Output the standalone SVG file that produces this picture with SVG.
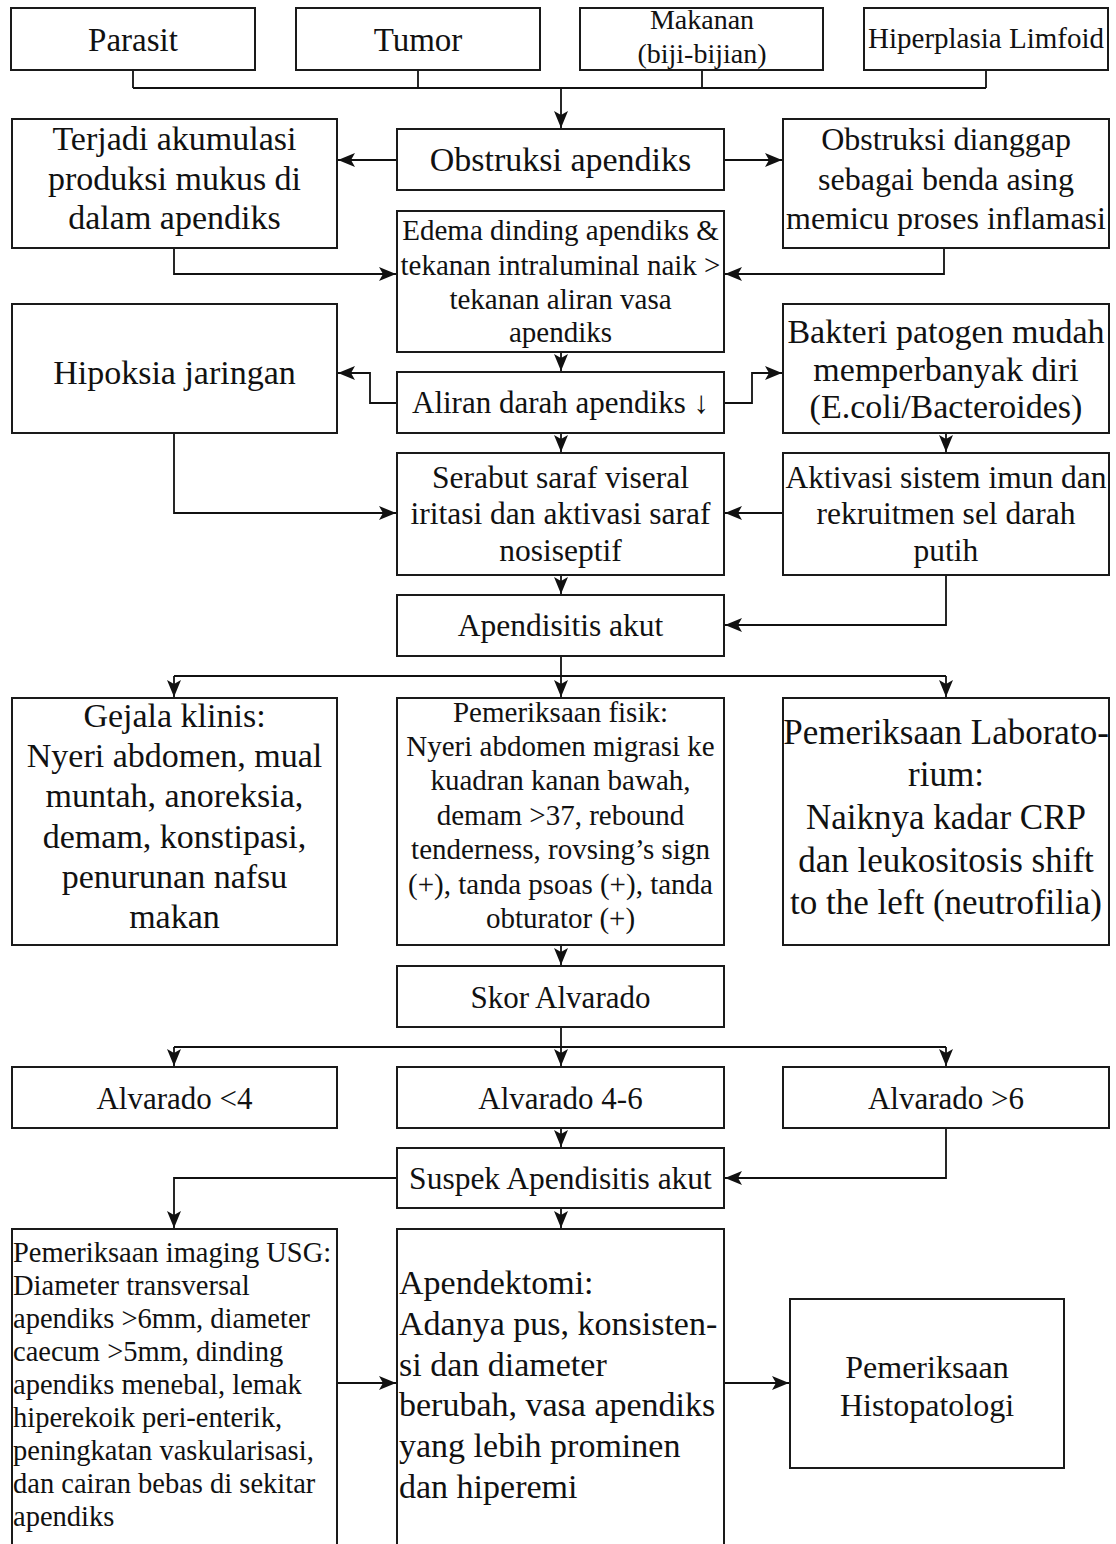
<svg xmlns="http://www.w3.org/2000/svg" width="1116" height="1544" viewBox="0 0 1116 1544">
<style>
.box{fill:#fff;stroke:#1a1a1a;stroke-width:2}
.t{font-family:"Liberation Serif","Times New Roman",serif;fill:#111;text-anchor:middle}
.l{text-anchor:start}
.conn path{fill:none;stroke:#111;stroke-width:1.8}
.a{marker-end:url(#ah)}
</style>
<defs>
<marker id="ah" markerUnits="userSpaceOnUse" markerWidth="18" markerHeight="15" refX="17" refY="7" orient="auto">
<path d="M0,0 L17,7 L0,14 L4,7 z" fill="#111"/>
</marker>
</defs>
<rect width="1116" height="1544" fill="#fff"/>

<g class="conn">
<path d="M133,70 V88 M418,70 V88 M702,70 V88 M986,70 V88 M133,88 H986"/>
<path class="a" d="M561,88 V128"/>
<path class="a" d="M397,160 H338"/>
<path class="a" d="M724,160 H782"/>
<path class="a" d="M174,248 V274 H396"/>
<path class="a" d="M944,248 V274 H725"/>
<path class="a" d="M561,352 V371"/>
<path class="a" d="M397,403 H370 V373 H338"/>
<path class="a" d="M724,403 H752 V373 H782"/>
<path class="a" d="M174,433 V513 H396"/>
<path class="a" d="M783,513 H725"/>
<path class="a" d="M561,433 V452"/>
<path class="a" d="M946,433 V452"/>
<path class="a" d="M561,575 V594"/>
<path class="a" d="M946,575 V625 H725"/>
<path d="M561,656 V676 M174,676 H946"/>
<path class="a" d="M174,676 V697"/>
<path class="a" d="M561,676 V697"/>
<path class="a" d="M946,676 V697"/>
<path class="a" d="M561,945 V965"/>
<path d="M561,1027 V1047 M174,1047 H946"/>
<path class="a" d="M174,1047 V1066"/>
<path class="a" d="M561,1047 V1066"/>
<path class="a" d="M946,1047 V1066"/>
<path class="a" d="M561,1128 V1147"/>
<path class="a" d="M946,1128 V1178 H725"/>
<path class="a" d="M397,1178 H174 V1228"/>
<path class="a" d="M561,1208 V1228"/>
<path class="a" d="M337,1383 H396"/>
<path class="a" d="M724,1383 H789"/>
</g>

<g id="parasit"><rect class="box" x="11" y="8" width="244" height="62"/><text class="t" x="133" y="51" font-size="33">Parasit</text></g>
<g id="tumor"><rect class="box" x="296" y="8" width="244" height="62"/><text class="t" x="418" y="51" font-size="33">Tumor</text></g>
<g id="makanan"><rect class="box" x="580" y="8" width="243" height="62"/><text class="t" x="702" y="29" font-size="28">Makanan</text><text class="t" x="702" y="63" font-size="28">(biji-bijian)</text></g>
<g id="hiperplasia"><rect class="box" x="864" y="8" width="244" height="62"/><text class="t" x="986" y="48" font-size="29">Hiperplasia Limfoid</text></g>

<g id="mukus"><rect class="box" x="12" y="119" width="325" height="129"/>
<text class="t" x="174.5" y="150" font-size="34">Terjadi akumulasi</text>
<text class="t" x="174.5" y="190" font-size="34">produksi mukus di</text>
<text class="t" x="174.5" y="229" font-size="34">dalam apendiks</text></g>
<g id="obstruksi"><rect class="box" x="397" y="129" width="327" height="61"/><text class="t" x="560.5" y="171" font-size="34">Obstruksi apendiks</text></g>
<g id="benda-asing"><rect class="box" x="783" y="119" width="326" height="129"/>
<text class="t" x="946" y="150" font-size="32">Obstruksi dianggap</text>
<text class="t" x="946" y="190" font-size="32">sebagai benda asing</text>
<text class="t" x="946" y="229" font-size="32">memicu proses inflamasi</text></g>

<g id="edema"><rect class="box" x="397" y="211" width="327" height="141"/>
<text class="t" x="560.5" y="240" font-size="29">Edema dinding apendiks &amp;</text>
<text class="t" x="560.5" y="275" font-size="29">tekanan intraluminal naik &gt;</text>
<text class="t" x="560.5" y="309" font-size="29">tekanan aliran vasa</text>
<text class="t" x="560.5" y="342" font-size="29">apendiks</text></g>

<g id="hipoksia"><rect class="box" x="12" y="304" width="325" height="129"/><text class="t" x="174.5" y="384" font-size="34">Hipoksia jaringan</text></g>
<g id="aliran"><rect class="box" x="397" y="372" width="327" height="61"/><text class="t" x="560.5" y="413" font-size="31">Aliran darah apendiks ↓</text></g>
<g id="bakteri"><rect class="box" x="783" y="304" width="326" height="129"/>
<text class="t" x="946" y="343" font-size="34">Bakteri patogen mudah</text>
<text class="t" x="946" y="381" font-size="34">memperbanyak diri</text>
<text class="t" x="946" y="418" font-size="34">(E.coli/Bacteroides)</text></g>

<g id="serabut"><rect class="box" x="397" y="453" width="327" height="122"/>
<text class="t" x="560.5" y="488" font-size="31.5">Serabut saraf viseral</text>
<text class="t" x="560.5" y="524" font-size="31.5">iritasi dan aktivasi saraf</text>
<text class="t" x="560.5" y="561" font-size="31.5">nosiseptif</text></g>
<g id="imun"><rect class="box" x="783" y="453" width="326" height="122"/>
<text class="t" x="946" y="488" font-size="31.5">Aktivasi sistem imun dan</text>
<text class="t" x="946" y="524" font-size="31.5">rekruitmen sel darah</text>
<text class="t" x="946" y="561" font-size="31.5">putih</text></g>

<g id="apendisitis"><rect class="box" x="397" y="595" width="327" height="61"/><text class="t" x="560.5" y="636" font-size="31.5">Apendisitis akut</text></g>

<g id="gejala"><rect class="box" x="12" y="698" width="325" height="247"/>
<text class="t" x="174.5" y="727" font-size="34">Gejala klinis:</text>
<text class="t" x="174.5" y="767" font-size="34">Nyeri abdomen, mual</text>
<text class="t" x="174.5" y="807" font-size="34">muntah, anoreksia,</text>
<text class="t" x="174.5" y="848" font-size="34">demam, konstipasi,</text>
<text class="t" x="174.5" y="888" font-size="34">penurunan nafsu</text>
<text class="t" x="174.5" y="928" font-size="34">makan</text></g>
<g id="fisik"><rect class="box" x="397" y="698" width="327" height="247"/>
<text class="t" x="560.5" y="722" font-size="29">Pemeriksaan fisik:</text>
<text class="t" x="560.5" y="756" font-size="29">Nyeri abdomen migrasi ke</text>
<text class="t" x="560.5" y="790" font-size="29">kuadran kanan bawah,</text>
<text class="t" x="560.5" y="825" font-size="29">demam &gt;37, rebound</text>
<text class="t" x="560.5" y="859" font-size="29">tenderness, rovsing’s sign</text>
<text class="t" x="560.5" y="894" font-size="29">(+), tanda psoas (+), tanda</text>
<text class="t" x="560.5" y="928" font-size="29">obturator (+)</text></g>
<g id="lab"><rect class="box" x="783" y="698" width="326" height="247"/>
<text class="t" x="946" y="744" font-size="35">Pemeriksaan Laborato-</text>
<text class="t" x="946" y="786" font-size="35">rium:</text>
<text class="t" x="946" y="829" font-size="35">Naiknya kadar CRP</text>
<text class="t" x="946" y="872" font-size="35">dan leukositosis shift</text>
<text class="t" x="946" y="914" font-size="35">to the left (neutrofilia)</text></g>

<g id="skor"><rect class="box" x="397" y="966" width="327" height="61"/><text class="t" x="560.5" y="1008" font-size="31">Skor Alvarado</text></g>
<g id="alv-lt4"><rect class="box" x="12" y="1067" width="325" height="61"/><text class="t" x="174.5" y="1109" font-size="31">Alvarado &lt;4</text></g>
<g id="alv-4-6"><rect class="box" x="397" y="1067" width="327" height="61"/><text class="t" x="560.5" y="1109" font-size="31">Alvarado 4-6</text></g>
<g id="alv-gt6"><rect class="box" x="783" y="1067" width="326" height="61"/><text class="t" x="946" y="1109" font-size="31">Alvarado &gt;6</text></g>

<g id="suspek"><rect class="box" x="397" y="1148" width="327" height="60"/><text class="t" x="560.5" y="1189" font-size="31.5">Suspek Apendisitis akut</text></g>

<g id="usg"><rect class="box" x="12" y="1229" width="325" height="330"/>
<text class="t l" x="13" y="1262" font-size="28.5">Pemeriksaan imaging USG:</text>
<text class="t l" x="13" y="1295" font-size="28.5">Diameter transversal</text>
<text class="t l" x="13" y="1328" font-size="28.5">apendiks &gt;6mm, diameter</text>
<text class="t l" x="13" y="1361" font-size="28.5">caecum &gt;5mm, dinding</text>
<text class="t l" x="13" y="1394" font-size="28.5">apendiks menebal, lemak</text>
<text class="t l" x="13" y="1427" font-size="28.5">hiperekoik peri-enterik,</text>
<text class="t l" x="13" y="1460" font-size="28.5">peningkatan vaskularisasi,</text>
<text class="t l" x="13" y="1493" font-size="28.5">dan cairan bebas di sekitar</text>
<text class="t l" x="13" y="1526" font-size="28.5">apendiks</text></g>
<g id="apendektomi"><rect class="box" x="397" y="1229" width="327" height="330"/>
<text class="t l" x="399" y="1294" font-size="34">Apendektomi:</text>
<text class="t l" x="399" y="1335" font-size="34">Adanya pus, konsisten-</text>
<text class="t l" x="399" y="1376" font-size="34">si dan diameter</text>
<text class="t l" x="399" y="1416" font-size="34">berubah, vasa apendiks</text>
<text class="t l" x="399" y="1457" font-size="34">yang lebih prominen</text>
<text class="t l" x="399" y="1498" font-size="34">dan hiperemi</text></g>
<g id="histopatologi"><rect class="box" x="790" y="1299" width="274" height="169"/>
<text class="t" x="927" y="1378" font-size="32">Pemeriksaan</text>
<text class="t" x="927" y="1416" font-size="32">Histopatologi</text></g>
</svg>
